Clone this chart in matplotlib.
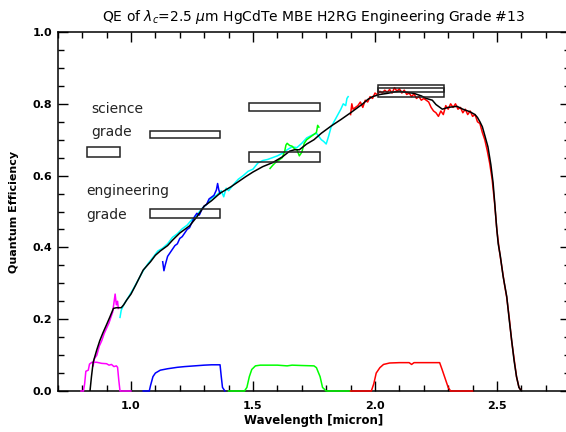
import matplotlib
matplotlib.use("Agg")
import matplotlib.pyplot as plt
from matplotlib.patches import Rectangle
from matplotlib.ticker import MultipleLocator

# smoothed QE curve (black)
qe_x = [0.832, 0.838, 0.845, 0.86, 0.872, 0.885, 0.90, 0.914, 0.928, 0.94, 0.96, 0.97,
        0.982, 1.00, 1.02, 1.05, 1.08, 1.10, 1.12, 1.15, 1.17, 1.20, 1.24, 1.27, 1.30,
        1.33, 1.365, 1.41, 1.44, 1.47, 1.50, 1.54, 1.58, 1.62, 1.65, 1.67, 1.69, 1.72,
        1.75, 1.78, 1.82, 1.86, 1.90, 1.93, 1.95, 1.97, 1.99, 2.02, 2.05, 2.08, 2.10,
        2.13, 2.16, 2.19, 2.21, 2.235, 2.25, 2.276, 2.30, 2.336, 2.36, 2.389, 2.41, 2.42,
        2.43, 2.44, 2.45, 2.463, 2.475, 2.484, 2.49, 2.498, 2.505, 2.513, 2.525, 2.54,
        2.55, 2.56, 2.57, 2.58, 2.59, 2.60]
qe_y = [0.0, 0.04, 0.08, 0.115, 0.14, 0.162, 0.185, 0.207, 0.23, 0.232, 0.232, 0.24,
        0.253, 0.27, 0.296, 0.337, 0.36, 0.378, 0.39, 0.405, 0.42, 0.44, 0.46, 0.485, 0.515,
        0.53, 0.551, 0.569, 0.583, 0.597, 0.61, 0.625, 0.636, 0.652, 0.668, 0.672, 0.672, 0.688,
        0.70, 0.718, 0.738, 0.756, 0.775, 0.79, 0.80, 0.812, 0.82, 0.826, 0.829, 0.833, 0.835,
        0.832, 0.829, 0.822, 0.815, 0.81, 0.798, 0.785, 0.79, 0.793, 0.785, 0.778, 0.77, 0.762,
        0.75, 0.736, 0.712, 0.68, 0.63, 0.58, 0.53, 0.46, 0.41, 0.379, 0.32, 0.263,
        0.2, 0.142, 0.085, 0.04, 0.01, 0.0]

# measured QE segments
mag_x = [0.845, 0.85, 0.86, 0.87, 0.88, 0.89, 0.90, 0.91, 0.92, 0.925, 0.93, 0.935, 0.94, 0.945, 0.948]
mag_y = [0.07, 0.09, 0.10, 0.125, 0.14, 0.16, 0.175, 0.19, 0.21, 0.22, 0.245, 0.27, 0.24, 0.25, 0.23]

cyan_x = [0.955, 0.96, 0.97, 0.99, 1.01, 1.03, 1.05, 1.07, 1.09, 1.11, 1.13, 1.15, 1.17,
          1.19, 1.21, 1.23, 1.25, 1.27, 1.29, 1.31, 1.33, 1.35, 1.37, 1.38, 1.39, 1.40, 1.42,
          1.44, 1.46, 1.48, 1.50, 1.52, 1.54, 1.56, 1.58, 1.60, 1.62, 1.64, 1.66, 1.68, 1.70,
          1.72, 1.74, 1.76, 1.78, 1.79, 1.80, 1.81, 1.82, 1.84, 1.86, 1.87, 1.88, 1.885, 1.89]
cyan_y = [0.205, 0.225, 0.24, 0.262, 0.285, 0.31, 0.335, 0.355, 0.372, 0.39, 0.398, 0.41, 0.428,
          0.438, 0.452, 0.462, 0.478, 0.49, 0.508, 0.52, 0.537, 0.545, 0.558, 0.541, 0.565, 0.558, 0.575,
          0.59, 0.60, 0.612, 0.618, 0.635, 0.642, 0.645, 0.65, 0.655, 0.662, 0.672, 0.68, 0.678, 0.69,
          0.705, 0.712, 0.718, 0.70, 0.695, 0.688, 0.71, 0.735, 0.76, 0.785, 0.80, 0.795, 0.815, 0.82]

blue_x = [1.13, 1.135, 1.14, 1.15, 1.16, 1.17, 1.18, 1.19, 1.20, 1.21, 1.22, 1.23, 1.24,
          1.25, 1.26, 1.27, 1.28, 1.29, 1.30, 1.31, 1.32, 1.33, 1.34, 1.35, 1.355, 1.36, 1.365]
blue_y = [0.36, 0.335, 0.35, 0.375, 0.385, 0.395, 0.405, 0.41, 0.425, 0.43, 0.44, 0.45, 0.455,
          0.47, 0.485, 0.495, 0.49, 0.505, 0.515, 0.52, 0.535, 0.54, 0.545, 0.56, 0.578, 0.56, 0.55]

green_x = [1.57, 1.58, 1.59, 1.60, 1.61, 1.62, 1.63, 1.635, 1.64, 1.65, 1.66, 1.67, 1.68,
           1.69, 1.70, 1.71, 1.72, 1.73, 1.74, 1.75, 1.76, 1.765, 1.77]
green_y = [0.62, 0.628, 0.635, 0.64, 0.645, 0.65, 0.668, 0.685, 0.69, 0.684, 0.682, 0.675, 0.672,
           0.655, 0.665, 0.69, 0.70, 0.705, 0.71, 0.715, 0.72, 0.74, 0.735]

red_x = [1.90, 1.905, 1.91, 1.92, 1.93, 1.94, 1.95, 1.96, 1.97, 1.98, 1.99, 2.00, 2.01, 2.02,
         2.03, 2.04, 2.05, 2.06, 2.07, 2.08, 2.09, 2.10, 2.11, 2.12, 2.13, 2.14, 2.15, 2.16,
         2.17, 2.18, 2.19, 2.20, 2.21, 2.22, 2.23, 2.24, 2.25, 2.26, 2.27, 2.28, 2.29, 2.30,
         2.31, 2.32, 2.33, 2.34, 2.35, 2.36, 2.37, 2.38, 2.39, 2.40, 2.41, 2.42, 2.43, 2.44,
         2.45, 2.46, 2.47, 2.48, 2.49, 2.50, 2.51, 2.52, 2.53, 2.54, 2.55, 2.56, 2.57, 2.58,
         2.59, 2.60]
red_y = [0.77, 0.80, 0.785, 0.79, 0.795, 0.805, 0.79, 0.81, 0.805, 0.82, 0.815, 0.83, 0.825, 0.835,
         0.83, 0.838, 0.832, 0.84, 0.83, 0.845, 0.835, 0.842, 0.83, 0.838, 0.826, 0.83, 0.82, 0.828,
         0.815, 0.82, 0.81, 0.815, 0.81, 0.805, 0.79, 0.78, 0.775, 0.765, 0.78, 0.77, 0.795, 0.785,
         0.80, 0.79, 0.80, 0.785, 0.79, 0.775, 0.785, 0.77, 0.78, 0.765, 0.77, 0.75, 0.745, 0.72,
         0.70, 0.67, 0.635, 0.59, 0.525, 0.445, 0.39, 0.345, 0.30, 0.26, 0.205, 0.14, 0.09, 0.04,
         0.01, 0.0]

# filter transmission curves (scaled)
magf_x = [0.795, 0.805, 0.81, 0.815, 0.825, 0.83, 0.84, 0.86, 0.88, 0.90, 0.91, 0.92, 0.93,
          0.94, 0.945, 0.95, 0.955, 1.0]
magf_y = [0.0, 0.0, 0.02, 0.055, 0.058, 0.075, 0.08, 0.08, 0.077, 0.076, 0.072, 0.074, 0.068,
          0.07, 0.066, 0.03, 0.0, 0.0]
bluef_x = [1.05, 1.075, 1.08, 1.09, 1.10, 1.12, 1.15, 1.19, 1.22, 1.26, 1.30, 1.33, 1.365,
           1.37, 1.375, 1.385]
bluef_y = [0.0, 0.0, 0.015, 0.04, 0.05, 0.058, 0.062, 0.066, 0.068, 0.07, 0.072, 0.073, 0.073,
           0.04, 0.01, 0.0]
greenf_x = [1.40, 1.465, 1.475, 1.485, 1.495, 1.51, 1.53, 1.60, 1.64, 1.66, 1.70, 1.75, 1.76,
            1.775, 1.785, 1.80, 1.90]
greenf_y = [0.0, 0.0, 0.01, 0.04, 0.06, 0.07, 0.072, 0.072, 0.07, 0.072, 0.071, 0.07, 0.065,
            0.04, 0.01, 0.0, 0.0]
redf_x = [1.90, 1.985, 1.995, 2.005, 2.02, 2.035, 2.06, 2.10, 2.14, 2.15, 2.16, 2.20, 2.265,
          2.275, 2.285, 2.30, 2.31, 2.40]
redf_y = [0.0, 0.0, 0.02, 0.05, 0.065, 0.074, 0.078, 0.079, 0.079, 0.074, 0.079, 0.079, 0.079,
          0.06, 0.04, 0.01, 0.0, 0.0]

# requirement boxes
box_x0 = [0.818, 1.078, 1.078, 1.484, 1.484, 2.011, 2.011]
box_x1 = [0.955, 1.365, 1.365, 1.775, 1.775, 2.283, 2.283]
box_y0 = [0.653, 0.704, 0.481, 0.780, 0.639, 0.832, 0.820]
box_y1 = [0.679, 0.725, 0.507, 0.801, 0.665, 0.852, 0.843]

fig = plt.figure(figsize=(5.66, 4.32), dpi=100)
ax = fig.add_axes([0.1021, 0.0949, 0.9053, 0.831])

lw = 1.1
# filters drawn above the bottom spine so their zero runs show
ax.plot(magf_x, magf_y, color='#ff00ff', lw=lw, zorder=3, clip_on=False)
ax.plot(bluef_x, bluef_y, color='#0000ff', lw=lw, zorder=3, clip_on=False)
ax.plot(greenf_x, greenf_y, color='#00ff00', lw=lw, zorder=3, clip_on=False)
ax.plot(redf_x, redf_y, color='#ff0000', lw=lw, zorder=3, clip_on=False)

ax.plot(mag_x, mag_y, color='#ff00ff', lw=lw)
ax.plot(cyan_x, cyan_y, color='#00ffff', lw=lw)
ax.plot(blue_x, blue_y, color='#0000ff', lw=lw)
ax.plot(green_x, green_y, color='#00ff00', lw=lw)
ax.plot(red_x, red_y, color='#ff0000', lw=lw)

ax.plot(qe_x, qe_y, color='black', lw=lw, zorder=3)

for x0, x1, y0, y1 in zip(box_x0, box_x1, box_y0, box_y1):
    ax.add_patch(Rectangle((x0, y0), x1 - x0, y1 - y0, fill=False,
                           edgecolor='#222222', lw=1.1, zorder=5))

ax.text(0.839, 0.774, 'science', fontsize=10, color='#222222')
ax.text(0.839, 0.710, 'grade', fontsize=10, color='#222222')
ax.text(0.816, 0.546, 'engineering', fontsize=10, color='#222222')
ax.text(0.816, 0.478, 'grade', fontsize=10, color='#222222')

ax.set_xlim(0.7, 2.8)
ax.set_ylim(0.0, 1.0)
ax.xaxis.set_major_locator(MultipleLocator(0.5))
ax.xaxis.set_minor_locator(MultipleLocator(0.1))
ax.yaxis.set_major_locator(MultipleLocator(0.2))
ax.yaxis.set_minor_locator(MultipleLocator(0.05))
ax.xaxis.set_major_formatter(plt.FormatStrFormatter('%.1f'))
ax.yaxis.set_major_formatter(plt.FormatStrFormatter('%.1f'))
ax.tick_params(which='both', direction='in', top=True, right=True, width=1.0)
ax.tick_params(which='major', length=7)
ax.tick_params(which='minor', length=4)
ax.tick_params(axis='x', pad=7, labelsize=8)
ax.tick_params(axis='y', pad=4, labelsize=8)
for lab in ax.get_xticklabels() + ax.get_yticklabels():
    lab.set_fontweight('bold')
for s in ax.spines.values():
    s.set_linewidth(1.1)

ax.set_xlabel('Wavelength [micron]', fontsize=8.5, fontweight='bold', labelpad=2)
ax.set_ylabel('Quantum Efficiency', fontsize=8, fontweight='bold', labelpad=10)
ax.set_title(r'QE of $\lambda_c$=2.5 $\mu$m HgCdTe MBE H2RG Engineering Grade #13',
             fontsize=10, pad=8)

fig.savefig('out.png', dpi=100)
